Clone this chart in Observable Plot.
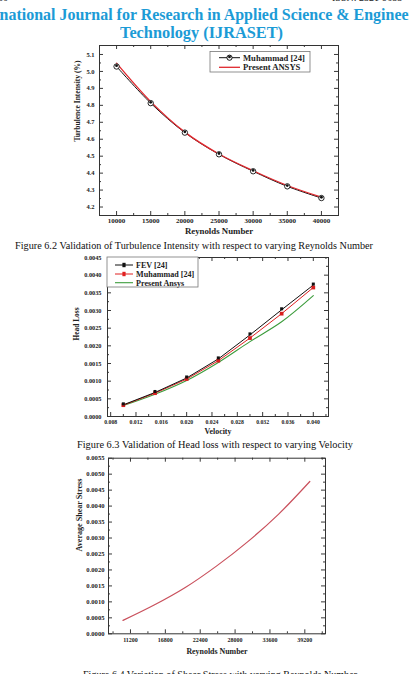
<!DOCTYPE html>
<html><head><meta charset="utf-8">
<script src="https://cdn.jsdelivr.net/npm/d3@7"></script>
<script src="https://cdn.jsdelivr.net/npm/@observablehq/plot@0.6"></script>
<style>
html,body{margin:0;padding:0;background:#fff;overflow:hidden;width:409px;height:674px;}
#page{position:relative;width:409px;height:674px;overflow:hidden;font-family:"Liberation Serif",serif;}
.abs{position:absolute;white-space:nowrap;}
.hdr{color:#1c9bd6;font-weight:bold;font-size:17px;line-height:20px;}
.cap{font-size:10.5px;line-height:14px;color:#111;transform-origin:left center;}
</style></head><body><div id="page"></div>
<script>
// ---- data ----
const reynolds1 = [10000, 15000, 20000, 25000, 30000, 35000, 40000];
const tiMuhammad = [5.029, 4.813, 4.639, 4.511, 4.411, 4.322, 4.253];
const tiAnsys = [5.049, 4.822, 4.642, 4.513, 4.414, 4.327, 4.258];

const velocity = [0.010, 0.015, 0.020, 0.025, 0.030, 0.035, 0.040];
const hlFEV = [0.00033, 0.00068, 0.00109, 0.00163, 0.00231, 0.00302, 0.00372];
const hlMuhammad = [0.00032, 0.00066, 0.00106, 0.00158, 0.00222, 0.00291, 0.00365];
const hlAnsys = [0.00031, 0.00063, 0.00102, 0.00153, 0.00212, 0.00268, 0.00342];

const reynolds3 = [10000, 15000, 20000, 25000, 30000, 35000, 40000];
const shearStress = [0.00042, 0.00090, 0.00145, 0.00212, 0.00288, 0.00375, 0.00477];

// tick labels
const x1Ticks = [10000, 15000, 20000, 25000, 30000, 35000, 40000];
const x1Minor = [12500, 17500, 22500, 27500, 32500, 37500];
const y1Ticks = [4.2, 4.3, 4.4, 4.5, 4.6, 4.7, 4.8, 4.9, 5.0, 5.1];
const y1Minor = [4.25, 4.35, 4.45, 4.55, 4.65, 4.75, 4.85, 4.95, 5.05];
const x2Ticks = [0.008, 0.012, 0.016, 0.020, 0.024, 0.028, 0.032, 0.036, 0.040];
const x2Minor = [0.010, 0.014, 0.018, 0.022, 0.026, 0.030, 0.034, 0.038, 0.042];
const y2Ticks = [0, 0.0005, 0.0010, 0.0015, 0.0020, 0.0025, 0.0030, 0.0035, 0.0040, 0.0045];
const y2Minor = [0.00025, 0.00075, 0.00125, 0.00175, 0.00225, 0.00275, 0.00325, 0.00375, 0.00425];
const x3Ticks = [11200, 16800, 22400, 28000, 33600, 39200];
const x3Minor = [8400, 14000, 19600, 25200, 30800, 36400, 42000];
const y3Ticks = [0, 0.0005, 0.0010, 0.0015, 0.0020, 0.0025, 0.0030, 0.0035, 0.0040, 0.0045, 0.0050, 0.0055];
const y3Minor = [0.00025, 0.00075, 0.00125, 0.00175, 0.00225, 0.00275, 0.00325, 0.00375, 0.00425, 0.00475, 0.00525];

const t1 = reynolds1.map((re, i) => ({re, muhammad: tiMuhammad[i], ansys: tiAnsys[i]}));
const t2 = velocity.map((v, i) => ({v, fev: hlFEV[i], muhammad: hlMuhammad[i], ansys: hlAnsys[i]}));
const t3 = reynolds3.map((re, i) => ({re, tau: shearStress[i]}));

const W = 409;
const page = document.getElementById("page");

function div(cls, text, css) {
  const d = document.createElement("div");
  d.className = "abs " + cls;
  d.textContent = text;
  Object.assign(d.style, css);
  page.appendChild(d);
  return d;
}

function makeChart(c) {
  const fw = W - c.ml - c.mr, fh = c.height - c.mt - c.mb;
  const MJ = 4, MN = 2, tk = {stroke: "#222", strokeWidth: 0.9};
  const marks = [
    Plot.tickX(c.xTicks, {...tk, insetTop: fh - MJ}),
    Plot.tickX(c.xTicks, {...tk, insetBottom: fh - MJ}),
    Plot.tickX(c.xMinor, {...tk, insetTop: fh - MN}),
    Plot.tickX(c.xMinor, {...tk, insetBottom: fh - MN}),
    Plot.tickY(c.yTicks, {...tk, insetRight: fw - MJ}),
    Plot.tickY(c.yTicks, {...tk, insetLeft: fw - MJ}),
    Plot.tickY(c.yMinor, {...tk, insetRight: fw - MN}),
    Plot.tickY(c.yMinor, {...tk, insetLeft: fw - MN}),
    Plot.axisX(c.xTicks, {tickSize: 0, tickPadding: c.xPad, tickFormat: c.xFmt, fontSize: c.xLabelSize, fontWeight: "bold", label: null, fill: "#222"}),
    Plot.axisY(c.yTicks, {anchor: "left", tickSize: 0, tickPadding: c.yPad, tickFormat: c.yFmt, fontSize: c.yLabelSize, fontWeight: "bold", label: null, fill: "#222"}),
    Plot.text([c.xTitle], {text: d => d, frameAnchor: "bottom", dy: c.xTitleDy, fontSize: c.xTitleSize, fontWeight: "bold", fill: "#222"}),
    Plot.text([c.yTitle], {text: d => d, frameAnchor: "left", rotate: -90, dx: c.yTitleDx, dy: c.yTitleDy, fontSize: c.yTitleSize, fontWeight: "bold", fill: "#222"}),
    ...c.marks,
    Plot.frame({stroke: "#333", strokeWidth: 1})
  ];
  const svg = Plot.plot({
    width: W, height: c.height,
    marginTop: c.mt, marginBottom: c.mb, marginLeft: c.ml, marginRight: c.mr,
    x: {domain: c.xDomain}, y: {domain: c.yDomain},
    style: {fontFamily: "'Liberation Serif', serif", background: "transparent", color: "#222", overflow: "visible"},
    marks
  });
  svg.style.position = "absolute";
  svg.style.left = "0px";
  svg.style.top = c.top + "px";
  page.appendChild(svg);
  return svg;
}

function legend(svg, top, box, items, fontSize) {
  const g = d3.select(svg).append("g").attr("transform", `translate(0,${-top})`);
  g.append("rect").attr("x", box.x).attr("y", box.y).attr("width", box.w).attr("height", box.h)
    .attr("fill", "#fff").attr("stroke", "#777").attr("stroke-width", 0.8);
  for (const it of items) {
    g.append("line").attr("x1", it.x1).attr("x2", it.x2).attr("y1", it.y).attr("y2", it.y)
      .attr("stroke", it.color).attr("stroke-width", it.sw || 1);
    if (it.marker === "circle") {
      g.append("circle").attr("cx", (it.x1 + it.x2) / 2).attr("cy", it.y).attr("r", 2.6)
        .attr("fill", "#fff").attr("stroke", it.color);
      g.append("circle").attr("cx", (it.x1 + it.x2) / 2).attr("cy", it.y - 0.8).attr("r", 1.4).attr("fill", it.color);
    } else if (it.marker === "square") {
      g.append("rect").attr("x", (it.x1 + it.x2) / 2 - 1.6).attr("y", it.y - 2.2).attr("width", 3.2).attr("height", 4.4)
        .attr("fill", it.color);
    }
    g.append("text").attr("x", it.tx).attr("y", it.y).attr("dy", "0.35em")
      .attr("text-anchor", "start")
      .attr("font-family", "'Liberation Serif', serif").attr("font-weight", "bold")
      .attr("font-size", fontSize).attr("fill", "#222").text(it.label);
  }
}

// ---- header ----
const h1 = document.createElement("div");
h1.className = "abs hdr";
h1.style.top = "5px";
h1.innerHTML = '<span id="hA">Inter</span><span id="hB">national Journal for Research in Applied Science &amp; Enginee</span><span>ring</span>';
page.appendChild(h1);
div("hdr", "Technology (IJRASET)", {top: "23px"}).id = "h2";
div("", "60", {top: "-8px", left: "-2px", fontSize: "10px", color: "#222"});
div("", "ISSN: 2321-9653", {top: "-8px", left: "332px", fontSize: "10px", color: "#222"});

// ---- chart 1 ----
const s1 = makeChart({
  top: 40, height: 200, mt: 5, mb: 25, ml: 99, mr: 71,
  xDomain: [7500, 42500], yDomain: [4.15, 5.153],
  xTicks: x1Ticks, xMinor: x1Minor, yTicks: y1Ticks, yMinor: y1Minor,
  xFmt: d3.format("d"), yFmt: d3.format(".1f"),
  xPad: 2.5, yPad: 5, xLabelSize: 7, yLabelSize: 6.5,
  xTitle: "Reynolds Number", xTitleDy: 18, xTitleSize: 8.8,
  yTitle: "Turbulence Intensity (%)", yTitleDx: -22, yTitleDy: 11, yTitleSize: 7.5,
  marks: [
    Plot.line(t1, {x: "re", y: "muhammad", stroke: "#111", strokeWidth: 1, curve: "catmull-rom"}),
    Plot.line(t1, {x: "re", y: "ansys", stroke: "#e0282e", strokeWidth: 1.3, curve: "catmull-rom"}),
    Plot.dot(t1, {x: "re", y: "muhammad", r: 2.7, fill: "#fff", stroke: "#111", strokeWidth: 0.9}),
    Plot.dot(t1, {x: "re", y: "muhammad", r: 1.4, fill: "#111", dy: -0.8})
  ]
});
legend(s1, 40, {x: 210, y: 51.5, w: 100, h: 20.5}, [
  {x1: 219, x2: 240, y: 57.7, color: "#111", marker: "circle", tx: 243, label: "Muhammad [24]"},
  {x1: 219, x2: 240, y: 67.3, color: "#e0282e", sw: 1.3, tx: 243, label: "Present ANSYS"}
], 8.6);

// ---- chart 2 ----
const s2 = makeChart({
  top: 250, height: 190, mt: 7, mb: 24, ml: 107, mr: 81,
  xDomain: [0.0075, 0.0424], yDomain: [0, 0.0045],
  xTicks: x2Ticks, xMinor: x2Minor, yTicks: y2Ticks, yMinor: y2Minor,
  xFmt: d3.format(".3f"), yFmt: d3.format(".4f"),
  xPad: 3, yPad: 6, xLabelSize: 5.8, yLabelSize: 6.3,
  xTitle: "Velocity", xTitleDy: 17, xTitleSize: 7.9,
  yTitle: "Head Loss", yTitleDx: -31, yTitleDy: 3.5, yTitleSize: 7.4,
  marks: [
    Plot.line(t2, {x: "v", y: "ansys", stroke: "#3c9c3c", strokeWidth: 1.1, curve: "catmull-rom"}),
    Plot.line(t2, {x: "v", y: "muhammad", stroke: "#e02020", strokeWidth: 1}),
    Plot.line(t2, {x: "v", y: "fev", stroke: "#111", strokeWidth: 1}),
    Plot.dot(t2, {x: "v", y: "muhammad", symbol: "square", r: 2.1, fill: "#d81e1e"}),
    Plot.dot(t2, {x: "v", y: "fev", symbol: "square", r: 1.7, fill: "#111", dy: -1})
  ]
});
legend(s2, 250, {x: 107, y: 257, w: 91, h: 30}, [
  {x1: 115, x2: 133, y: 265, color: "#111", marker: "square", tx: 136, label: "FEV [24]"},
  {x1: 115, x2: 133, y: 274, color: "#e02020", marker: "square", tx: 136, label: "Muhammad [24]"},
  {x1: 115, x2: 133, y: 282.7, color: "#3c9c3c", sw: 1.1, tx: 136, label: "Present Ansys"}
], 8.1);

// ---- chart 3 ----
makeChart({
  top: 452, height: 210, mt: 5.7, mb: 28.7, ml: 108, mr: 84,
  xDomain: [7670, 42520], yDomain: [0, 0.0055],
  xTicks: x3Ticks, xMinor: x3Minor, yTicks: y3Ticks, yMinor: y3Minor,
  xFmt: d3.format("d"), yFmt: d3.format(".4f"),
  xPad: 4, yPad: 4, xLabelSize: 6, yLabelSize: 6.6,
  xTitle: "Reynolds Number", xTitleDy: 20, xTitleSize: 7.9,
  yTitle: "Average Shear Stress", yTitleDx: -28.7, yTitleDy: 5.5, yTitleSize: 8.1,
  marks: [
    Plot.line(t3, {x: "re", y: "tau", stroke: "#c9505c", strokeWidth: 1.2, curve: "catmull-rom"})
  ]
});

// ---- captions ----
const c1 = div("cap", "Figure 6.2 Validation of Turbulence Intensity with respect to varying Reynolds Number", {top: "239px", left: "15px"});
const c2 = div("cap", "Figure 6.3 Validation of Head loss with respect to varying Velocity", {top: "438px", left: "77px"});
const c3 = div("cap", "Figure 6.4 Variation of Shear Stress with varying Reynolds Number", {top: "668px", left: "83px"});

function fit(el, target) {
  const w = el.getBoundingClientRect().width;
  el.style.transform = `scaleX(${target / w})`;
}
fit(c1, 358);
fit(c2, 276);
fit(c3, 274);

// header fitting
(function () {
  const b = document.getElementById("hB").getBoundingClientRect().width;
  const s = 409 / b;
  h1.style.transformOrigin = "left center";
  const a = document.getElementById("hA").getBoundingClientRect().width;
  h1.style.left = (-a * s) + "px";
  h1.style.transform = `scaleX(${s})`;
  const h2 = document.getElementById("h2");
  const w2 = h2.getBoundingClientRect().width;
  h2.style.transformOrigin = "left center";
  h2.style.left = "120px";
  h2.style.transform = `scaleX(${163 / w2})`;
})();
</script></body></html>
